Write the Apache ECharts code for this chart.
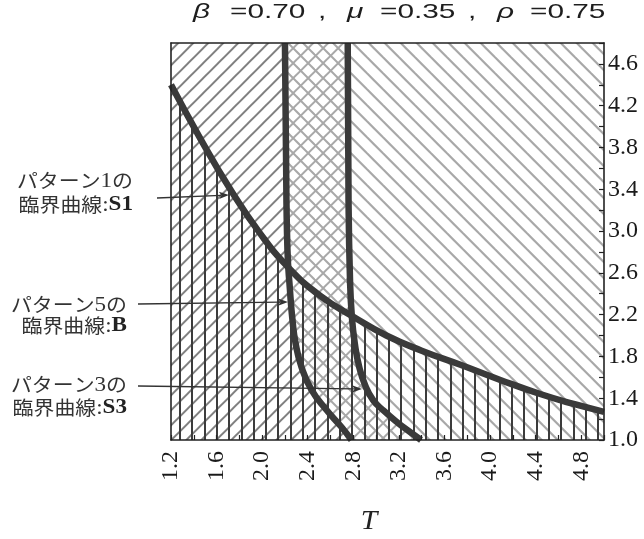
<!DOCTYPE html>
<html><head><meta charset="utf-8">
<script src="https://cdn.jsdelivr.net/npm/echarts@6/dist/echarts.min.js"></script>
<style>html,body{margin:0;padding:0;background:#fff}#c{width:644px;height:539px}</style>
</head><body><div id="c"></div>
<script>
// ---- data ----
const X_MIN = 1.2, X_MAX = 5.0, Y_MIN = 1.0, Y_MAX = 4.8;
const xLabels = [1.2, 1.6, 2.0, 2.4, 2.8, 3.2, 3.6, 4.0, 4.4, 4.8];
const yLabels = [1.0, 1.4, 1.8, 2.2, 2.6, 3.0, 3.4, 3.8, 4.2, 4.6];
// critical curve S1 (pattern 1)
const s1T = [1.20, 1.45, 1.72, 1.98, 2.24, 2.51, 2.80, 3.09, 3.40, 3.74, 4.09, 4.44, 4.75, 5.00];
const s1V = [4.40, 3.90, 3.40, 2.98, 2.64, 2.38, 2.18, 2.00, 1.855, 1.72, 1.575, 1.44, 1.34, 1.27];
// critical curve B (pattern 5)
const bT = [2.200, 2.209, 2.222, 2.244, 2.266, 2.293, 2.345, 2.433, 2.565, 2.696, 2.784];
const bV = [4.800, 3.776, 2.819, 2.436, 2.149, 1.928, 1.699, 1.479, 1.287, 1.124, 1.000];
// critical curve S3 (pattern 3)
const s3T = [2.751, 2.758, 2.771, 2.788, 2.815, 2.850, 2.903, 2.973, 3.069, 3.192, 3.297, 3.394];
const s3V = [4.800, 3.297, 2.532, 2.168, 1.909, 1.708, 1.526, 1.383, 1.278, 1.163, 1.077, 1.000];
// arrow targets (points on curves)
const arrowTips = [[1.709, 3.345], [2.227, 2.321], [2.876, 1.488]];
const annoLine1 = ['1', '5', '3'];
const annoName = ['S1', 'B', 'S3'];

// ---- patterns ----
function diagTile(P, dirs, color, lw, offs) {
  const c = document.createElement('canvas'); c.width = P; c.height = P;
  const g = c.getContext('2d'); g.strokeStyle = color; g.lineWidth = lw;
  dirs.forEach((d, i) => {
    const off = offs[i];
    for (let k = -3; k <= 3; k++) {
      const cc = off + k * P;
      g.beginPath();
      if (d === '/') { g.moveTo(cc + 2 * P, -2 * P); g.lineTo(cc - 2 * P, 2 * P); }
      else { g.moveTo(cc - 2 * P, -2 * P); g.lineTo(cc + 2 * P, 2 * P); }
      g.stroke();
    }
  });
  return c;
}
const slashTile = diagTile(15, ['/'], '#808080', 2, [11.3]);
const crossTile = diagTile(15, ['/', '\\'], '#a8a8a8', 2, [11.3, 5]);
const backTile = diagTile(16, ['\\'], '#a8a8a8', 2.2, [5.7]);
const vTile = (function () {
  const c = document.createElement('canvas'); c.width = 123; c.height = 8;
  const g = c.getContext('2d'); g.fillStyle = '#3c3c3c';
  for (let k = 0; k < 10; k++) { const x = Math.round(7.8 + 12.3 * k); g.fillRect(x - 1, 0, 2, 8); }
  return c;
})();

const pairs = (a, b) => a.map((v, i) => [v, b[i]]);
const fmt = (list) => (v) => list.some(l => Math.abs(l - v) < 1e-6) ? v.toFixed(1) : '';

const chart = echarts.init(document.getElementById('c'), null, { renderer: 'canvas' });
const axisCol = '#222';
const option = {
  animation: false,
  backgroundColor: '#fff',
  grid: { left: 171, top: 43, right: 40, bottom: 99, show: false },
  xAxis: [{
    type: 'value', min: X_MIN, max: X_MAX, interval: 0.2, position: 'bottom', z: 10,
    axisLine: { show: true, onZero: false, lineStyle: { color: axisCol, width: 1.6 } },
    axisTick: { show: true, inside: true, length: 5, lineStyle: { color: axisCol, width: 1.2 } },
    splitLine: { show: false },
    axisLabel: { rotate: 90, margin: 11, fontFamily: 'Liberation Serif', fontSize: 24, color: '#1a1a1a', formatter: fmt(xLabels) }
  }, {
    type: 'value', min: X_MIN, max: X_MAX, position: 'top', z: 10,
    axisLine: { show: true, onZero: false, lineStyle: { color: axisCol, width: 1.6 } },
    axisTick: { show: false }, axisLabel: { show: false }, splitLine: { show: false }
  }],
  yAxis: [{
    type: 'value', min: Y_MIN, max: Y_MAX, interval: 0.2, position: 'right', z: 10,
    axisLine: { show: true, onZero: false, lineStyle: { color: axisCol, width: 1.6 } },
    axisTick: { show: true, inside: true, length: 5, lineStyle: { color: axisCol, width: 1.2 } },
    splitLine: { show: false },
    axisLabel: { margin: 4, fontFamily: 'Liberation Serif', fontSize: 24, color: '#1a1a1a', formatter: fmt(yLabels) }
  }, {
    type: 'value', min: Y_MIN, max: Y_MAX, position: 'left', z: 10,
    axisLine: { show: true, onZero: false, lineStyle: { color: axisCol, width: 1.6 } },
    axisTick: { show: false }, axisLabel: { show: false }, splitLine: { show: false }
  }],
  series: [{
    type: 'custom', coordinateSystem: 'cartesian2d', silent: true, z: 1,
    data: [[X_MIN, Y_MIN]],
    renderItem: (params, api) => {
      const B = bT.map((t, i) => api.coord([t, bV[i]]));
      const S = s3T.map((t, i) => api.coord([t, s3V[i]]));
      const tl = api.coord([X_MIN, Y_MAX]), bl = api.coord([X_MIN, Y_MIN]);
      const tr = api.coord([X_MAX, Y_MAX]), br = api.coord([X_MAX, Y_MIN]);
      return {
        type: 'group', children: [
          { type: 'polygon', shape: { points: [tl].concat(B, [bl]) }, style: { fill: { image: slashTile, repeat: 'repeat' } } },
          { type: 'polygon', shape: { points: B.concat(S.slice().reverse()) }, style: { fill: { image: crossTile, repeat: 'repeat' } } },
          { type: 'polygon', shape: { points: S.concat([br, tr]) }, style: { fill: { image: backTile, repeat: 'repeat' } } }
        ]
      };
    }
  }, {
    name: 'S1', type: 'line', data: pairs(s1T, s1V), smooth: 0.5, symbol: 'none', z: 2,
    lineStyle: { color: '#3a3a3a', width: 6.5 },
    areaStyle: { origin: 'start', opacity: 1, color: { image: vTile, repeat: 'repeat' } }
  }, {
    name: 'B', type: 'line', data: pairs(bT, bV), smooth: 0.5, symbol: 'none', z: 3,
    lineStyle: { color: '#3a3a3a', width: 6.5 }
  }, {
    name: 'S3', type: 'line', data: pairs(s3T, s3V), smooth: 0.5, symbol: 'none', z: 3,
    lineStyle: { color: '#3a3a3a', width: 6.5 }
  }]
};
chart.setOption(option);

// ---- text & annotations ----
const titleParts = [['β', 193, true], ['=0.70', 230, false], [',', 318, false], ['μ', 347, true], ['=0.35', 380, false], [',', 468, false], ['ρ', 497, true], ['=0.75', 530, false]];
const graphics = [];
titleParts.forEach(p => graphics.push({
  type: 'text', x: p[1], y: 12, scaleX: 1.42, z: 20,
  style: { text: p[0], fontFamily: 'Liberation Sans', fontSize: 21, fontStyle: p[2] ? 'italic' : 'normal', fill: '#1e1e1e', align: 'left', verticalAlign: 'middle' }
}));
graphics.push({
  type: 'text', x: 369, y: 522, scaleX: 1.1, z: 20,
  style: { text: 'T', fontFamily: 'Liberation Serif', fontSize: 27, fontStyle: 'italic', fill: '#222', align: 'center', verticalAlign: 'middle' }
});
const rich = {
  j: { fontFamily: 'Noto Sans CJK JP', fontSize: 19, fill: '#333', color: '#333' },
  n: { fontFamily: 'Liberation Serif', fontSize: 21, fill: '#333', color: '#333' },
  b: { fontFamily: 'Liberation Serif', fontSize: 21, fontWeight: 'bold', fill: '#222', color: '#222' }
};
const annoLayout = [
  { right: 133, y1: 181, y2: 205, tail: [157, 198] },
  { right: 127, y1: 305, y2: 326, tail: [138, 304] },
  { right: 127, y1: 385, y2: 408, tail: [138, 386] }
];
annoLayout.forEach((a, i) => {
  graphics.push({ type: 'text', x: a.right, y: a.y1, scaleX: 1.1, z: 20,
    style: { text: '{j|パターン}{n|' + annoLine1[i] + '}{j|の}', rich: rich, align: 'right', verticalAlign: 'middle' } });
  graphics.push({ type: 'text', x: a.right, y: a.y2, scaleX: 1.1, z: 20,
    style: { text: '{j|臨界曲線}{n|:}{b|' + annoName[i] + '}', rich: rich, align: 'right', verticalAlign: 'middle' } });
  const tip = chart.convertToPixel({ gridIndex: 0 }, arrowTips[i]);
  const t = a.tail;
  const dx = tip[0] - t[0], dy = tip[1] - t[1], L = Math.hypot(dx, dy);
  const ux = dx / L, uy = dy / L, hl = 10, hw = 3.6;
  const base = [tip[0] - ux * hl, tip[1] - uy * hl];
  graphics.push({ type: 'line', z: 20, shape: { x1: t[0], y1: t[1], x2: base[0] + ux * 2, y2: base[1] + uy * 2 },
    style: { stroke: '#333', lineWidth: 1.3 } });
  graphics.push({ type: 'polygon', z: 20, shape: { points: [tip, [base[0] - uy * hw, base[1] + ux * hw], [base[0] + ux * 2.5, base[1] + uy * 2.5], [base[0] + uy * hw, base[1] - ux * hw]] },
    style: { fill: '#333' } });
});
chart.setOption({ graphic: graphics });
</script>
</body></html>
